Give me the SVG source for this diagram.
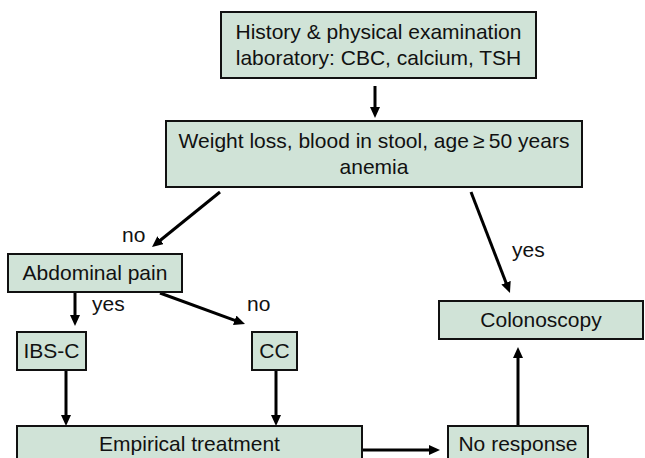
<svg xmlns="http://www.w3.org/2000/svg" width="645" height="458" viewBox="0 0 645 458">
  <style>
    .box { fill: #d0e3d7; stroke: #111; stroke-width: 2; }
    .t { font-family: "Liberation Sans", Arial, sans-serif; font-size: 21px; fill: #111; text-anchor: middle; }
    .lbl { font-family: "Liberation Sans", Arial, sans-serif; font-size: 21px; fill: #111; }
    .edge { stroke: #000; stroke-width: 3; fill: none; marker-end: url(#head); }
  </style>
  <defs>
    <marker id="head" markerUnits="userSpaceOnUse" markerWidth="12" markerHeight="11" refX="3" refY="5" orient="auto">
      <path d="M0,0 L11,5 L0,10 z" fill="#000"/>
    </marker>
  </defs>
  <rect width="645" height="458" fill="#fff"/>

  <g id="connectors">
    <line class="edge" x1="375" y1="86" x2="375" y2="110"/>
    <line class="edge" x1="220" y1="192" x2="158.2" y2="242"/>
    <line class="edge" x1="471" y1="192" x2="507.1" y2="285.5"/>
    <line class="edge" x1="75" y1="292" x2="75" y2="318"/>
    <line class="edge" x1="160" y1="293" x2="237.5" y2="321.3"/>
    <line class="edge" x1="66" y1="370" x2="66" y2="418"/>
    <line class="edge" x1="276" y1="370" x2="276" y2="418"/>
    <line class="edge" x1="362" y1="450" x2="432" y2="450"/>
    <line class="edge" x1="518" y1="426" x2="518" y2="355"/>
    <text class="lbl" x="122" y="242">no</text>
    <text class="lbl" x="512" y="257">yes</text>
    <text class="lbl" x="92" y="311">yes</text>
    <text class="lbl" x="247" y="311">no</text>
  </g>

  <g id="history">
    <rect class="box" x="221" y="12" width="315" height="66"/>
    <text class="t" x="378.5" y="39">History &amp; physical examination</text>
    <text class="t" x="378.5" y="65">laboratory: CBC, calcium, TSH</text>
  </g>

  <g id="alarm">
    <rect class="box" x="166" y="121" width="416" height="66"/>
    <text class="t" x="374" y="148">Weight loss, blood in stool, age&#8201;≥&#8201;50 years</text>
    <text class="t" x="374" y="174">anemia</text>
  </g>

  <g id="abdominal-pain">
    <rect class="box" x="8" y="254" width="174" height="38"/>
    <text class="t" x="95" y="280">Abdominal pain</text>
  </g>

  <g id="ibs-c">
    <rect class="box" x="17" y="332" width="69" height="38"/>
    <text class="t" x="51.5" y="358">IBS-C</text>
  </g>

  <g id="cc">
    <rect class="box" x="252" y="332" width="45" height="38"/>
    <text class="t" x="274.5" y="358">CC</text>
  </g>

  <g id="colonoscopy">
    <rect class="box" x="439" y="301" width="204" height="38"/>
    <text class="t" x="541" y="327">Colonoscopy</text>
  </g>

  <g id="empirical-treatment">
    <rect class="box" x="17" y="426" width="345" height="40"/>
    <text class="t" x="189.5" y="451">Empirical treatment</text>
  </g>

  <g id="no-response">
    <rect class="box" x="448" y="426" width="140" height="40"/>
    <text class="t" x="518" y="451">No response</text>
  </g>
</svg>
